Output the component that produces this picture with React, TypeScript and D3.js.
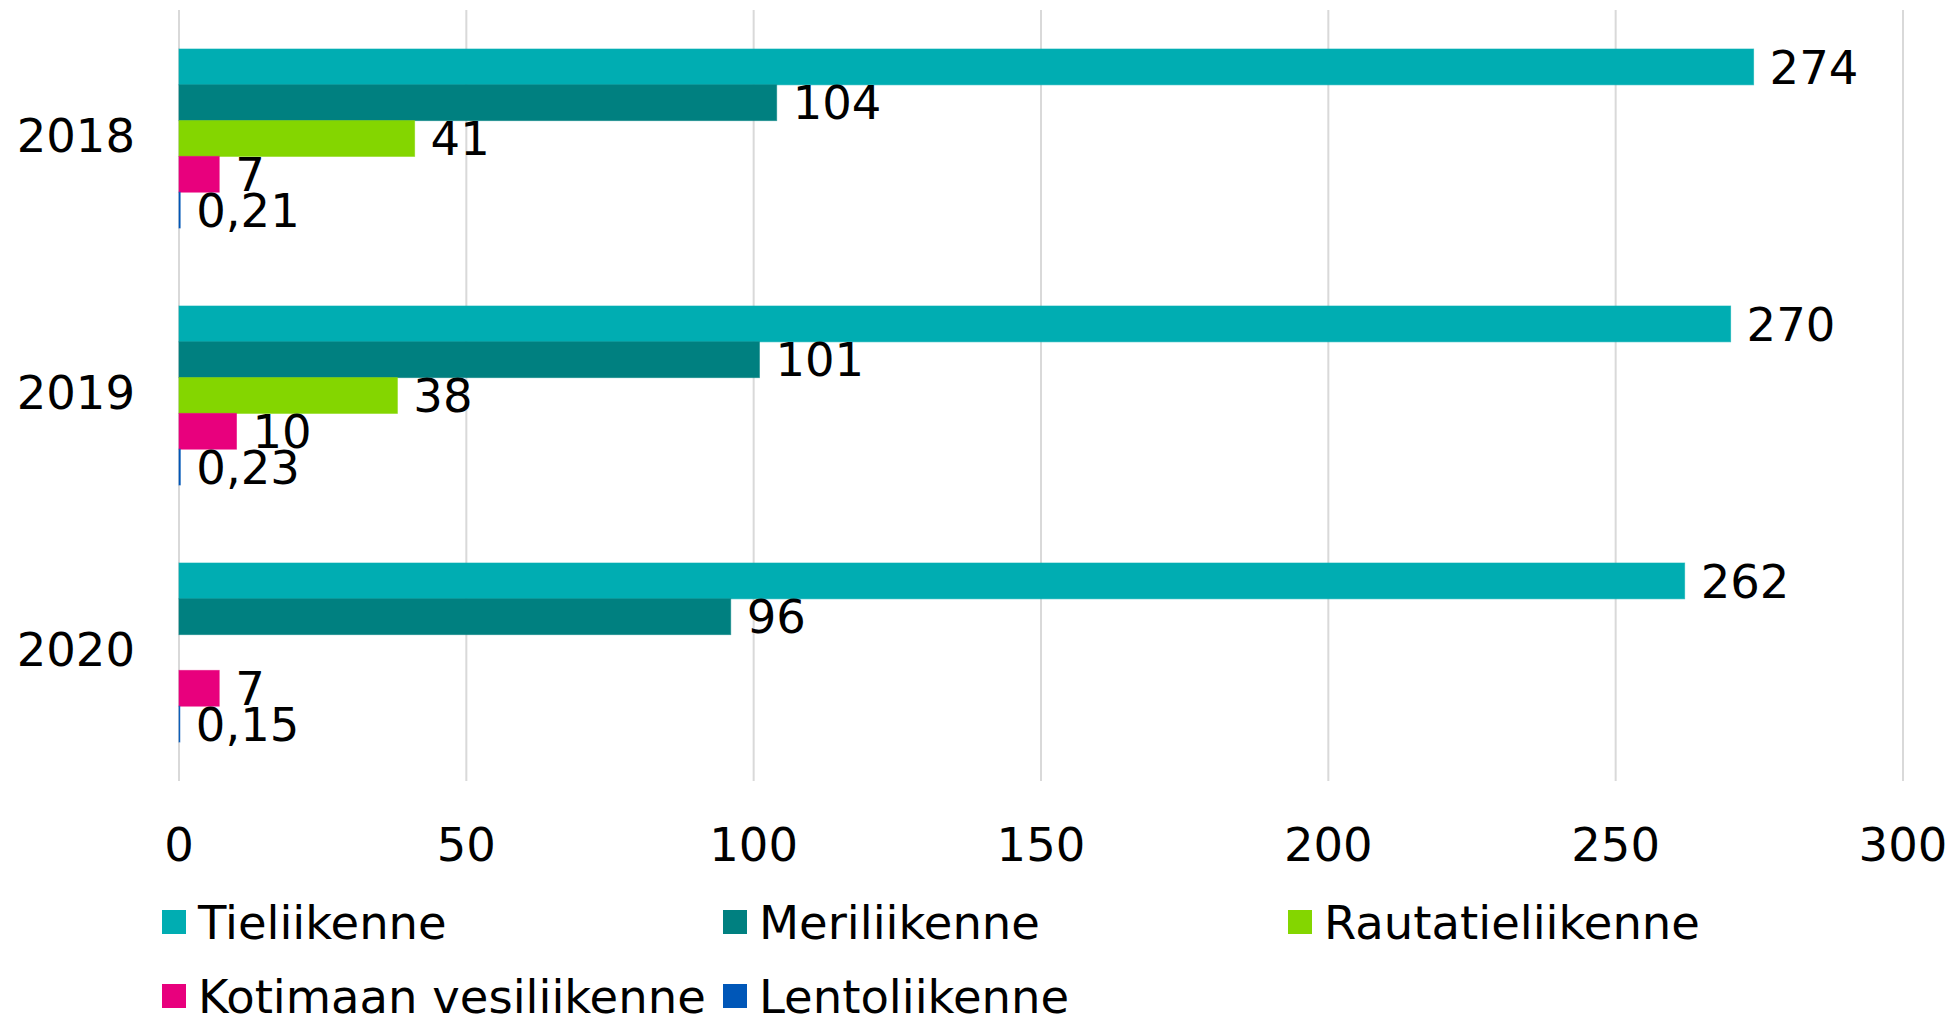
import React from "react";
import * as d3 from "d3";

const years = ["2018", "2019", "2020"];
const seriesNames = ["Tieliikenne", "Meriliikenne", "Rautatieliikenne", "Kotimaan vesiliikenne", "Lentoliikenne"];
const seriesColors = ["#00ADB2", "#008080", "#84D600", "#E8007D", "#0057B8"];
const tieliikenne = [274, 270, 262];
const meriliikenne = [104, 101, 96];
const rautatieliikenne: (number | null)[] = [41, 38, null];
const kotimaanVesiliikenne = [7, 10, 7];
const lentoliikenne = [0.21, 0.23, 0.15];
const xTicks = [0, 50, 100, 150, 200, 250, 300];

const seriesValues: (number | null)[][] = [tieliikenne, meriliikenne, rautatieliikenne, kotimaanVesiliikenne, lentoliikenne];

const W = 1959;
const H = 1018;
const FONT = "'DejaVu Sans', Verdana, sans-serif";
const FS = 46.5;

function fmt(v: number) {
  return String(v).replace(".", ",");
}

export default function App() {
  const x = d3.scaleLinear().domain([0, 300]).range([179, 1903]);
  const y0 = d3.scaleBand<string>().domain(years).range([10, 781]).paddingInner(0).paddingOuter(0);
  const y1 = d3
    .scaleBand<string>()
    .domain(seriesNames)
    .range([0, y0.bandwidth()])
    .paddingInner(0)
    .paddingOuter(1.09);

  const legendCols = [162, 723, 1288];
  const legendRows = [922, 996];

  return (
    <svg
      width={W}
      height={H}
      style={{ position: "absolute", left: 0, top: 0, background: "#fff" }}
      fontFamily={FONT}
    >
      <rect x={0} y={0} width={W} height={H} fill="#fff" />
      {xTicks.map((t) => (
        <line key={t} x1={x(t)} x2={x(t)} y1={10} y2={781} stroke="#d9d9d9" strokeWidth={2} />
      ))}
      {years.map((yr, yi) => (
        <g key={yr}>
          {seriesNames.map((s, si) => {
            const v = seriesValues[si][yi];
            if (v === null || v === undefined) return null;
            const by = (y0(yr) as number) + (y1(s) as number);
            const bh = y1.bandwidth();
            return (
              <g key={s}>
                <rect
                  x={x(0)}
                  y={by}
                  width={Math.max(x(v) - x(0), 0)}
                  height={bh}
                  fill={seriesColors[si]}
                  stroke={seriesColors[si]}
                  strokeOpacity={0.6}
                  strokeWidth={1}
                />
                <text
                  x={x(v) + 16}
                  y={by + bh / 2}
                  dy="0.36em"
                  fontSize={FS}
                  fill="#000"
                >
                  {fmt(v)}
                </text>
              </g>
            );
          })}
          <text
            x={135}
            y={(y0(yr) as number) + y0.bandwidth() / 2 - 3}
            dy="0.36em"
            textAnchor="end"
            fontSize={FS}
            fill="#000"
          >
            {yr}
          </text>
        </g>
      ))}
      {xTicks.map((t) => (
        <text key={"t" + t} x={x(t)} y={844} dy="0.36em" textAnchor="middle" fontSize={FS} fill="#000">
          {t}
        </text>
      ))}
      {seriesNames.map((s, i) => {
        const col = i < 3 ? i : i - 3;
        const row = i < 3 ? 0 : 1;
        const lx = legendCols[col];
        const ly = legendRows[row];
        return (
          <g key={"l" + s}>
            <rect x={lx} y={ly - 12} width={24} height={24} fill={seriesColors[i]} />
            <text x={lx + 36} y={ly} dy="0.36em" fontSize={FS} fill="#000">
              {s}
            </text>
          </g>
        );
      })}
    </svg>
  );
}
